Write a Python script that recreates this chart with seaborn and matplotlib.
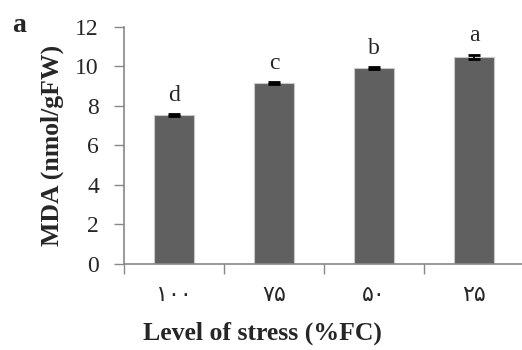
import matplotlib
matplotlib.use("Agg")
import matplotlib.pyplot as plt
import seaborn as sns
import pandas as pd

# Field capacity levels (Persian numerals) and measured MDA content
levels = ["۱۰۰", "۷۵", "۵۰", "۲۵"]
mda = [7.53, 9.15, 9.91, 10.48]
mda_err = [0.04, 0.04, 0.04, 0.12]
groups = ["d", "c", "b", "a"]

df = pd.DataFrame({"level": levels, "mda": mda})

sns.set_style("white")
plt.rcParams["font.family"] = ["Liberation Serif", "DejaVu Sans"]

fig = plt.figure(figsize=(5.22, 3.5), dpi=100)
ax = fig.add_axes([0.2375, 0.246, 0.7663, 0.677])

sns.barplot(data=df, x="level", y="mda", order=levels, color="#606060",
            saturation=1, width=0.4, edgecolor="#c8c8c8", linewidth=0.8, ax=ax)
ax.errorbar(range(len(levels)), mda, yerr=mda_err, fmt="none", ecolor="black",
            elinewidth=1.2, capsize=4, capthick=2)

for i, (v, e, g) in enumerate(zip(mda, mda_err, groups)):
    ax.text(i, v + e + 0.7, g, ha="center", va="baseline", fontsize=17,
            family=["Liberation Serif", "DejaVu Sans"])

ax.set_xlim(-0.5, 3.5)
ax.set_ylim(0, 12)
ax.set_yticks([0, 2, 4, 6, 8, 10, 12])
ax.tick_params(axis="y", labelsize=17, length=7, width=1, color="#888888",
               direction="out", left=True, pad=11)

# Major ticks sit between categories, labels sit on minor positions
ax.set_xticks([-0.5, 0.5, 1.5, 2.5, 3.5])
ax.set_xticklabels([])
ax.set_xticks(range(len(levels)), minor=True)
ax.set_xticklabels(levels, minor=True, fontsize=16,
                   family=["DejaVu Sans"])
ax.tick_params(axis="x", which="major", length=7, width=1, color="#888888",
               direction="out", bottom=True)
ax.tick_params(axis="x", which="minor", length=0, pad=15)

for side in ["top", "right"]:
    ax.spines[side].set_visible(False)
for side in ["left", "bottom"]:
    ax.spines[side].set_color("#888888")
    ax.spines[side].set_linewidth(1.2)

ax.set_xlabel("Level of stress (%FC)", fontsize=18.5, fontweight="bold")
ax.set_ylabel("MDA (nmol/gFW)", fontsize=18.5, fontweight="bold")
ax.xaxis.set_label_coords(0.345, -0.245)
ax.yaxis.set_label_coords(-0.15, 0.5)

fig.text(12 / 522, 1 - 32 / 350, "a", fontsize=20, fontweight="bold",
         va="baseline")

fig.savefig("out.png", dpi=100)
